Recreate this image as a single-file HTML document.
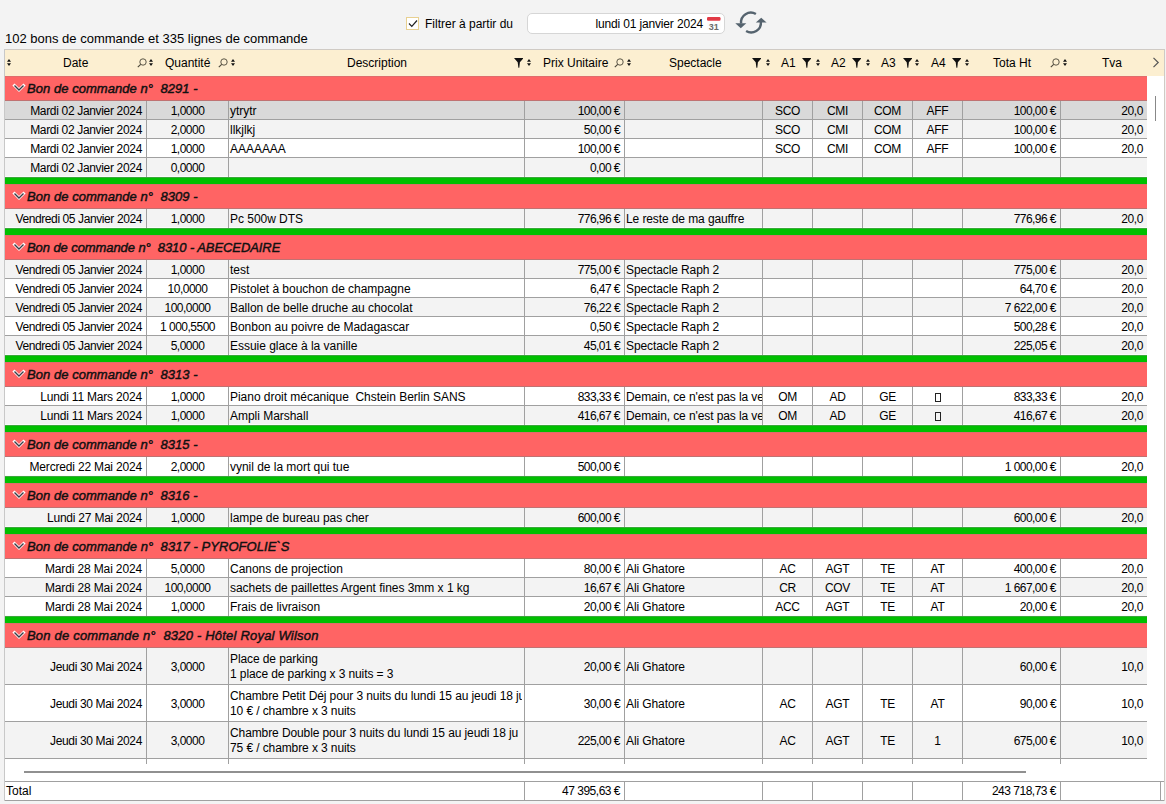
<!DOCTYPE html>
<html><head><meta charset="utf-8"><style>
html,body{margin:0;padding:0}
body{width:1166px;height:804px;overflow:hidden;position:relative;background:#f3f3f3;font-family:"Liberation Sans", sans-serif;color:#000}
.abs{position:absolute}
#tbl{position:absolute;left:4px;top:49px;width:1159px;height:750px;border:1px solid #cfcac4;border-left-color:#c8c8c8;background:#fff}
#hdr{position:absolute;left:5px;top:50px;width:1159px;height:26px;background:#fcefd1}
.row{position:absolute;left:5px;width:1142px}
.hl{position:absolute;left:5px;width:1142px;height:1px;background:#a0a0a0}
.vl{position:absolute;width:1px;background:#a0a0a0}
.cell{position:absolute;font-size:12px;white-space:pre;overflow:hidden;box-sizing:border-box}
.cr{text-align:right;padding-right:4px}
.cl{text-align:left;padding-left:1px}
.cc{text-align:center}
.ml{padding-left:1px;padding-top:4px;line-height:14.5px;letter-spacing:-0.1px}
.grp{position:absolute;left:5px;width:1142px;height:25px;background:#ff6464}
.gl{position:absolute;left:5px;width:1142px;height:1px;background:#dc6a6a}
.grn{position:absolute;left:5px;width:1142px;height:7px;background:#00bf00}
.chev{position:absolute;left:12px;width:14px;height:12px}
.chev svg{display:block}
.gtxt{position:absolute;left:27px;height:25px;line-height:25px;font-size:13px;font-weight:normal;font-style:italic;white-space:pre;color:#111;-webkit-text-stroke:0.45px #111}
.ic{position:absolute}
.ht{position:absolute;top:50px;height:26px;line-height:26px;font-size:12px;white-space:nowrap}
.tofu{display:inline-block;width:6px;height:9px;border:1px solid #222;box-sizing:border-box;vertical-align:-1px}
.tl{position:absolute;top:782px;height:18px;line-height:18px;font-size:12px}
.tr{position:absolute;top:782px;height:18px;line-height:18px;font-size:12px;text-align:right;white-space:pre;letter-spacing:-0.5px}
</style></head><body>
<div class="abs" style="left:5px;top:30px;font-size:13px;line-height:18px;white-space:nowrap">102 bons de commande et 335 lignes de commande</div>
<div class="abs" style="left:406px;top:17px;width:11px;height:11px;border:1px solid #e8d090;background:#fff"></div>
<svg class="abs" style="left:408px;top:19px" width="10" height="9" viewBox="0 0 10 9"><path d="M1 4.5 L3.8 7.3 L9 1.5" fill="none" stroke="#222" stroke-width="1.2"/></svg>
<div class="abs" style="left:425px;top:16px;font-size:12px;line-height:16px;white-space:nowrap">Filtrer à partir du</div>
<div class="abs" style="left:527px;top:13px;width:196px;height:19px;border:1px solid #d6d6d6;border-radius:5px;background:#fff"></div>
<div class="abs" style="left:560px;top:16px;width:143px;text-align:right;font-size:12px;line-height:16px;white-space:nowrap;letter-spacing:-0.15px">lundi 01 janvier 2024</div>
<svg class="abs" style="left:706px;top:16px" width="16" height="15" viewBox="0 0 16 15"><rect x="1" y="4" width="13.5" height="10" fill="#fcfcfc"/><rect x="1" y="1" width="13.5" height="3.7" rx="1.2" fill="#e23a46"/><text x="7.8" y="13.6" font-size="9px" font-weight="bold" text-anchor="middle" fill="#6a6a6a" font-family="Liberation Sans, sans-serif">31</text></svg>
<svg class="abs" style="left:730px;top:6px" width="42" height="34" viewBox="0 0 42 34"><path d="M25.9 8 A9.8 9.8 0 0 0 11.1 17.5" fill="none" stroke="#55636e" stroke-width="2.4"/><path d="M5.3 17.3 L16.3 17.3 L10.8 22.3 Z" fill="#55636e"/><path d="M16.1 25 A9.8 9.8 0 0 0 30.9 15.8" fill="none" stroke="#55636e" stroke-width="2.4"/><path d="M25.8 16.6 L36.6 16.6 L31.2 11.8 Z" fill="#55636e"/></svg>
<div id="tbl"></div>
<div id="hdr"></div>
<svg class="ic" style="left:7px;top:59px" width="4" height="7" viewBox="0 0 4 7"><path d="M2 0 L4 2.8 H0 Z M2 7 L4 4.2 H0 Z" fill="#111"/></svg>
<div class="ht" style="left:63px">Date</div>
<svg class="ic" style="left:137px;top:58px" width="10" height="10" viewBox="0 0 10 10"><circle cx="6" cy="4" r="3.2" fill="none" stroke="#4a4538" stroke-width="0.9"/><path d="M3.7 6.3 L0.8 9.2" stroke="#4a4538" stroke-width="1.1"/></svg>
<svg class="ic" style="left:149px;top:59px" width="4" height="7" viewBox="0 0 4 7"><path d="M2 0 L4 2.8 H0 Z M2 7 L4 4.2 H0 Z" fill="#111"/></svg>
<div class="ht" style="left:165px">Quantité</div>
<svg class="ic" style="left:218px;top:58px" width="10" height="10" viewBox="0 0 10 10"><circle cx="6" cy="4" r="3.2" fill="none" stroke="#4a4538" stroke-width="0.9"/><path d="M3.7 6.3 L0.8 9.2" stroke="#4a4538" stroke-width="1.1"/></svg>
<svg class="ic" style="left:231px;top:59px" width="4" height="7" viewBox="0 0 4 7"><path d="M2 0 L4 2.8 H0 Z M2 7 L4 4.2 H0 Z" fill="#111"/></svg>
<div class="ht" style="left:347px">Description</div>
<svg class="ic" style="left:514px;top:58px" width="9" height="10" viewBox="0 0 9 10"><path d="M0 0 H9.6 L5.9 4.2 L5.3 9.8 H4.4 L3.7 4.2 Z" fill="#111"/></svg>
<svg class="ic" style="left:527px;top:59px" width="4" height="7" viewBox="0 0 4 7"><path d="M2 0 L4 2.8 H0 Z M2 7 L4 4.2 H0 Z" fill="#111"/></svg>
<div class="ht" style="left:543px">Prix Unitaire</div>
<svg class="ic" style="left:614px;top:58px" width="10" height="10" viewBox="0 0 10 10"><circle cx="6" cy="4" r="3.2" fill="none" stroke="#4a4538" stroke-width="0.9"/><path d="M3.7 6.3 L0.8 9.2" stroke="#4a4538" stroke-width="1.1"/></svg>
<svg class="ic" style="left:627px;top:59px" width="4" height="7" viewBox="0 0 4 7"><path d="M2 0 L4 2.8 H0 Z M2 7 L4 4.2 H0 Z" fill="#111"/></svg>
<div class="ht" style="left:669px">Spectacle</div>
<svg class="ic" style="left:752px;top:58px" width="9" height="10" viewBox="0 0 9 10"><path d="M0 0 H9.6 L5.9 4.2 L5.3 9.8 H4.4 L3.7 4.2 Z" fill="#111"/></svg>
<svg class="ic" style="left:766px;top:59px" width="4" height="7" viewBox="0 0 4 7"><path d="M2 0 L4 2.8 H0 Z M2 7 L4 4.2 H0 Z" fill="#111"/></svg>
<div class="ht" style="left:781px">A1</div>
<svg class="ic" style="left:802px;top:58px" width="9" height="10" viewBox="0 0 9 10"><path d="M0 0 H9.6 L5.9 4.2 L5.3 9.8 H4.4 L3.7 4.2 Z" fill="#111"/></svg>
<svg class="ic" style="left:816px;top:59px" width="4" height="7" viewBox="0 0 4 7"><path d="M2 0 L4 2.8 H0 Z M2 7 L4 4.2 H0 Z" fill="#111"/></svg>
<div class="ht" style="left:831px">A2</div>
<svg class="ic" style="left:852px;top:58px" width="9" height="10" viewBox="0 0 9 10"><path d="M0 0 H9.6 L5.9 4.2 L5.3 9.8 H4.4 L3.7 4.2 Z" fill="#111"/></svg>
<svg class="ic" style="left:866px;top:59px" width="4" height="7" viewBox="0 0 4 7"><path d="M2 0 L4 2.8 H0 Z M2 7 L4 4.2 H0 Z" fill="#111"/></svg>
<div class="ht" style="left:881px">A3</div>
<svg class="ic" style="left:903px;top:58px" width="9" height="10" viewBox="0 0 9 10"><path d="M0 0 H9.6 L5.9 4.2 L5.3 9.8 H4.4 L3.7 4.2 Z" fill="#111"/></svg>
<svg class="ic" style="left:915px;top:59px" width="4" height="7" viewBox="0 0 4 7"><path d="M2 0 L4 2.8 H0 Z M2 7 L4 4.2 H0 Z" fill="#111"/></svg>
<div class="ht" style="left:931px">A4</div>
<svg class="ic" style="left:952px;top:58px" width="9" height="10" viewBox="0 0 9 10"><path d="M0 0 H9.6 L5.9 4.2 L5.3 9.8 H4.4 L3.7 4.2 Z" fill="#111"/></svg>
<svg class="ic" style="left:965px;top:59px" width="4" height="7" viewBox="0 0 4 7"><path d="M2 0 L4 2.8 H0 Z M2 7 L4 4.2 H0 Z" fill="#111"/></svg>
<div class="ht" style="left:993px">Tota Ht</div>
<svg class="ic" style="left:1050px;top:58px" width="10" height="10" viewBox="0 0 10 10"><circle cx="6" cy="4" r="3.2" fill="none" stroke="#4a4538" stroke-width="0.9"/><path d="M3.7 6.3 L0.8 9.2" stroke="#4a4538" stroke-width="1.1"/></svg>
<svg class="ic" style="left:1063px;top:59px" width="4" height="7" viewBox="0 0 4 7"><path d="M2 0 L4 2.8 H0 Z M2 7 L4 4.2 H0 Z" fill="#111"/></svg>
<div class="ht" style="left:1102px">Tva</div>
<svg class="ic" style="left:1152px;top:57px" width="8" height="11" viewBox="0 0 8 11"><path d="M1.5 0.8 L6.2 5.5 L1.5 10.2" fill="none" stroke="#555" stroke-width="1.2"/></svg>
<div class="grp" style="top:76px"></div>
<div class="gl" style="top:76px;background:#e06c6c"></div>
<div class="gl" style="top:100px;background:#c07272"></div>
<div class="chev" style="top:82px"><svg width="14" height="12" viewBox="0 0 14 12"><path d="M2.5 3.5 L7 8 L11.5 3.5" fill="none" stroke="#fff" stroke-width="3" stroke-linecap="square"/><path d="M2.5 3.5 L7 8 L11.5 3.5" fill="none" stroke="#3a3a44" stroke-width="1.4"/></svg></div>
<div class="gtxt" style="top:76px;letter-spacing:0.05px">Bon de commande n°  8291 -</div>
<div class="row" style="top:101px;height:18px;background:#d9d9d9"></div>
<div class="hl" style="top:119px"></div>
<div class="vl" style="left:146px;top:101px;height:19px"></div>
<div class="vl" style="left:228px;top:101px;height:19px"></div>
<div class="vl" style="left:524px;top:101px;height:19px"></div>
<div class="vl" style="left:624px;top:101px;height:19px"></div>
<div class="vl" style="left:762px;top:101px;height:19px"></div>
<div class="vl" style="left:812px;top:101px;height:19px"></div>
<div class="vl" style="left:862px;top:101px;height:19px"></div>
<div class="vl" style="left:912px;top:101px;height:19px"></div>
<div class="vl" style="left:962px;top:101px;height:19px"></div>
<div class="vl" style="left:1060px;top:101px;height:19px"></div>
<div class="cell cr" style="left:5px;top:102px;width:141px;height:17px;line-height:18px;letter-spacing:-0.33px">Mardi 02 Janvier 2024</div>
<div class="cell cc" style="left:147px;top:102px;width:81px;height:17px;line-height:18px;letter-spacing:-0.5px">1,0000</div>
<div class="cell cl" style="left:229px;top:102px;width:295px;height:17px;line-height:18px;letter-spacing:-0.03px">ytrytr</div>
<div class="cell cr" style="left:525px;top:102px;width:99px;height:17px;line-height:18px;letter-spacing:-0.55px">100,00 €</div>
<div class="cell cc" style="left:763px;top:102px;width:49px;height:17px;line-height:18px;letter-spacing:-0.3px">SCO</div>
<div class="cell cc" style="left:813px;top:102px;width:49px;height:17px;line-height:18px;letter-spacing:-0.3px">CMI</div>
<div class="cell cc" style="left:863px;top:102px;width:49px;height:17px;line-height:18px;letter-spacing:-0.3px">COM</div>
<div class="cell cc" style="left:913px;top:102px;width:49px;height:17px;line-height:18px;letter-spacing:-0.3px">AFF</div>
<div class="cell cr" style="left:963px;top:102px;width:97px;height:17px;line-height:18px;letter-spacing:-0.55px">100,00 €</div>
<div class="cell cr" style="left:1061px;top:102px;width:86px;height:17px;line-height:18px;letter-spacing:-0.4px">20,0</div>
<div class="row" style="top:120px;height:18px;background:#f3f3f3"></div>
<div class="hl" style="top:138px"></div>
<div class="vl" style="left:146px;top:120px;height:19px"></div>
<div class="vl" style="left:228px;top:120px;height:19px"></div>
<div class="vl" style="left:524px;top:120px;height:19px"></div>
<div class="vl" style="left:624px;top:120px;height:19px"></div>
<div class="vl" style="left:762px;top:120px;height:19px"></div>
<div class="vl" style="left:812px;top:120px;height:19px"></div>
<div class="vl" style="left:862px;top:120px;height:19px"></div>
<div class="vl" style="left:912px;top:120px;height:19px"></div>
<div class="vl" style="left:962px;top:120px;height:19px"></div>
<div class="vl" style="left:1060px;top:120px;height:19px"></div>
<div class="cell cr" style="left:5px;top:121px;width:141px;height:17px;line-height:18px;letter-spacing:-0.33px">Mardi 02 Janvier 2024</div>
<div class="cell cc" style="left:147px;top:121px;width:81px;height:17px;line-height:18px;letter-spacing:-0.5px">2,0000</div>
<div class="cell cl" style="left:229px;top:121px;width:295px;height:17px;line-height:18px;letter-spacing:-0.03px">llkjlkj</div>
<div class="cell cr" style="left:525px;top:121px;width:99px;height:17px;line-height:18px;letter-spacing:-0.55px">50,00 €</div>
<div class="cell cc" style="left:763px;top:121px;width:49px;height:17px;line-height:18px;letter-spacing:-0.3px">SCO</div>
<div class="cell cc" style="left:813px;top:121px;width:49px;height:17px;line-height:18px;letter-spacing:-0.3px">CMI</div>
<div class="cell cc" style="left:863px;top:121px;width:49px;height:17px;line-height:18px;letter-spacing:-0.3px">COM</div>
<div class="cell cc" style="left:913px;top:121px;width:49px;height:17px;line-height:18px;letter-spacing:-0.3px">AFF</div>
<div class="cell cr" style="left:963px;top:121px;width:97px;height:17px;line-height:18px;letter-spacing:-0.55px">100,00 €</div>
<div class="cell cr" style="left:1061px;top:121px;width:86px;height:17px;line-height:18px;letter-spacing:-0.4px">20,0</div>
<div class="row" style="top:139px;height:18px;background:#ffffff"></div>
<div class="hl" style="top:157px"></div>
<div class="vl" style="left:146px;top:139px;height:19px"></div>
<div class="vl" style="left:228px;top:139px;height:19px"></div>
<div class="vl" style="left:524px;top:139px;height:19px"></div>
<div class="vl" style="left:624px;top:139px;height:19px"></div>
<div class="vl" style="left:762px;top:139px;height:19px"></div>
<div class="vl" style="left:812px;top:139px;height:19px"></div>
<div class="vl" style="left:862px;top:139px;height:19px"></div>
<div class="vl" style="left:912px;top:139px;height:19px"></div>
<div class="vl" style="left:962px;top:139px;height:19px"></div>
<div class="vl" style="left:1060px;top:139px;height:19px"></div>
<div class="cell cr" style="left:5px;top:140px;width:141px;height:17px;line-height:18px;letter-spacing:-0.33px">Mardi 02 Janvier 2024</div>
<div class="cell cc" style="left:147px;top:140px;width:81px;height:17px;line-height:18px;letter-spacing:-0.5px">1,0000</div>
<div class="cell cl" style="left:229px;top:140px;width:295px;height:17px;line-height:18px;letter-spacing:-0.03px">AAAAAAA</div>
<div class="cell cr" style="left:525px;top:140px;width:99px;height:17px;line-height:18px;letter-spacing:-0.55px">100,00 €</div>
<div class="cell cc" style="left:763px;top:140px;width:49px;height:17px;line-height:18px;letter-spacing:-0.3px">SCO</div>
<div class="cell cc" style="left:813px;top:140px;width:49px;height:17px;line-height:18px;letter-spacing:-0.3px">CMI</div>
<div class="cell cc" style="left:863px;top:140px;width:49px;height:17px;line-height:18px;letter-spacing:-0.3px">COM</div>
<div class="cell cc" style="left:913px;top:140px;width:49px;height:17px;line-height:18px;letter-spacing:-0.3px">AFF</div>
<div class="cell cr" style="left:963px;top:140px;width:97px;height:17px;line-height:18px;letter-spacing:-0.55px">100,00 €</div>
<div class="cell cr" style="left:1061px;top:140px;width:86px;height:17px;line-height:18px;letter-spacing:-0.4px">20,0</div>
<div class="row" style="top:158px;height:18px;background:#f3f3f3"></div>
<div class="hl" style="top:176px;background:#fbfbfb"></div>
<div class="vl" style="left:146px;top:158px;height:19px"></div>
<div class="vl" style="left:228px;top:158px;height:19px"></div>
<div class="vl" style="left:524px;top:158px;height:19px"></div>
<div class="vl" style="left:624px;top:158px;height:19px"></div>
<div class="vl" style="left:762px;top:158px;height:19px"></div>
<div class="vl" style="left:812px;top:158px;height:19px"></div>
<div class="vl" style="left:862px;top:158px;height:19px"></div>
<div class="vl" style="left:912px;top:158px;height:19px"></div>
<div class="vl" style="left:962px;top:158px;height:19px"></div>
<div class="vl" style="left:1060px;top:158px;height:19px"></div>
<div class="cell cr" style="left:5px;top:159px;width:141px;height:17px;line-height:18px;letter-spacing:-0.33px">Mardi 02 Janvier 2024</div>
<div class="cell cc" style="left:147px;top:159px;width:81px;height:17px;line-height:18px;letter-spacing:-0.5px">0,0000</div>
<div class="cell cr" style="left:525px;top:159px;width:99px;height:17px;line-height:18px;letter-spacing:-0.55px">0,00 €</div>
<div class="grn" style="top:177px"></div>
<div class="gl" style="top:177px;background:#3aa83a"></div>
<div class="grp" style="top:184px"></div>
<div class="gl" style="top:184px;background:#e06c6c"></div>
<div class="gl" style="top:208px;background:#c07272"></div>
<div class="chev" style="top:190px"><svg width="14" height="12" viewBox="0 0 14 12"><path d="M2.5 3.5 L7 8 L11.5 3.5" fill="none" stroke="#fff" stroke-width="3" stroke-linecap="square"/><path d="M2.5 3.5 L7 8 L11.5 3.5" fill="none" stroke="#3a3a44" stroke-width="1.4"/></svg></div>
<div class="gtxt" style="top:184px;letter-spacing:0.05px">Bon de commande n°  8309 -</div>
<div class="row" style="top:209px;height:18px;background:#f3f3f3"></div>
<div class="hl" style="top:227px;background:#fbfbfb"></div>
<div class="vl" style="left:146px;top:209px;height:19px"></div>
<div class="vl" style="left:228px;top:209px;height:19px"></div>
<div class="vl" style="left:524px;top:209px;height:19px"></div>
<div class="vl" style="left:624px;top:209px;height:19px"></div>
<div class="vl" style="left:762px;top:209px;height:19px"></div>
<div class="vl" style="left:812px;top:209px;height:19px"></div>
<div class="vl" style="left:862px;top:209px;height:19px"></div>
<div class="vl" style="left:912px;top:209px;height:19px"></div>
<div class="vl" style="left:962px;top:209px;height:19px"></div>
<div class="vl" style="left:1060px;top:209px;height:19px"></div>
<div class="cell cr" style="left:5px;top:210px;width:141px;height:17px;line-height:18px;letter-spacing:-0.4px">Vendredi 05 Janvier 2024</div>
<div class="cell cc" style="left:147px;top:210px;width:81px;height:17px;line-height:18px;letter-spacing:-0.5px">1,0000</div>
<div class="cell cl" style="left:229px;top:210px;width:295px;height:17px;line-height:18px;letter-spacing:-0.03px">Pc 500w DTS</div>
<div class="cell cr" style="left:525px;top:210px;width:99px;height:17px;line-height:18px;letter-spacing:-0.55px">776,96 €</div>
<div class="cell cl" style="left:625px;top:210px;width:137px;height:17px;line-height:18px;letter-spacing:-0.1px">Le reste de ma gauffre</div>
<div class="cell cr" style="left:963px;top:210px;width:97px;height:17px;line-height:18px;letter-spacing:-0.55px">776,96 €</div>
<div class="cell cr" style="left:1061px;top:210px;width:86px;height:17px;line-height:18px;letter-spacing:-0.4px">20,0</div>
<div class="grn" style="top:228px"></div>
<div class="gl" style="top:228px;background:#3aa83a"></div>
<div class="grp" style="top:235px"></div>
<div class="gl" style="top:235px;background:#e06c6c"></div>
<div class="gl" style="top:259px;background:#c07272"></div>
<div class="chev" style="top:241px"><svg width="14" height="12" viewBox="0 0 14 12"><path d="M2.5 3.5 L7 8 L11.5 3.5" fill="none" stroke="#fff" stroke-width="3" stroke-linecap="square"/><path d="M2.5 3.5 L7 8 L11.5 3.5" fill="none" stroke="#3a3a44" stroke-width="1.4"/></svg></div>
<div class="gtxt" style="top:235px;letter-spacing:-0.08px">Bon de commande n°  8310 - ABECEDAIRE</div>
<div class="row" style="top:260px;height:18px;background:#f3f3f3"></div>
<div class="hl" style="top:278px"></div>
<div class="vl" style="left:146px;top:260px;height:19px"></div>
<div class="vl" style="left:228px;top:260px;height:19px"></div>
<div class="vl" style="left:524px;top:260px;height:19px"></div>
<div class="vl" style="left:624px;top:260px;height:19px"></div>
<div class="vl" style="left:762px;top:260px;height:19px"></div>
<div class="vl" style="left:812px;top:260px;height:19px"></div>
<div class="vl" style="left:862px;top:260px;height:19px"></div>
<div class="vl" style="left:912px;top:260px;height:19px"></div>
<div class="vl" style="left:962px;top:260px;height:19px"></div>
<div class="vl" style="left:1060px;top:260px;height:19px"></div>
<div class="cell cr" style="left:5px;top:261px;width:141px;height:17px;line-height:18px;letter-spacing:-0.4px">Vendredi 05 Janvier 2024</div>
<div class="cell cc" style="left:147px;top:261px;width:81px;height:17px;line-height:18px;letter-spacing:-0.5px">1,0000</div>
<div class="cell cl" style="left:229px;top:261px;width:295px;height:17px;line-height:18px;letter-spacing:-0.03px">test</div>
<div class="cell cr" style="left:525px;top:261px;width:99px;height:17px;line-height:18px;letter-spacing:-0.55px">775,00 €</div>
<div class="cell cl" style="left:625px;top:261px;width:137px;height:17px;line-height:18px;letter-spacing:-0.1px">Spectacle Raph 2</div>
<div class="cell cr" style="left:963px;top:261px;width:97px;height:17px;line-height:18px;letter-spacing:-0.55px">775,00 €</div>
<div class="cell cr" style="left:1061px;top:261px;width:86px;height:17px;line-height:18px;letter-spacing:-0.4px">20,0</div>
<div class="row" style="top:279px;height:18px;background:#ffffff"></div>
<div class="hl" style="top:297px"></div>
<div class="vl" style="left:146px;top:279px;height:19px"></div>
<div class="vl" style="left:228px;top:279px;height:19px"></div>
<div class="vl" style="left:524px;top:279px;height:19px"></div>
<div class="vl" style="left:624px;top:279px;height:19px"></div>
<div class="vl" style="left:762px;top:279px;height:19px"></div>
<div class="vl" style="left:812px;top:279px;height:19px"></div>
<div class="vl" style="left:862px;top:279px;height:19px"></div>
<div class="vl" style="left:912px;top:279px;height:19px"></div>
<div class="vl" style="left:962px;top:279px;height:19px"></div>
<div class="vl" style="left:1060px;top:279px;height:19px"></div>
<div class="cell cr" style="left:5px;top:280px;width:141px;height:17px;line-height:18px;letter-spacing:-0.4px">Vendredi 05 Janvier 2024</div>
<div class="cell cc" style="left:147px;top:280px;width:81px;height:17px;line-height:18px;letter-spacing:-0.5px">10,0000</div>
<div class="cell cl" style="left:229px;top:280px;width:295px;height:17px;line-height:18px;letter-spacing:-0.03px">Pistolet à bouchon de champagne</div>
<div class="cell cr" style="left:525px;top:280px;width:99px;height:17px;line-height:18px;letter-spacing:-0.55px">6,47 €</div>
<div class="cell cl" style="left:625px;top:280px;width:137px;height:17px;line-height:18px;letter-spacing:-0.1px">Spectacle Raph 2</div>
<div class="cell cr" style="left:963px;top:280px;width:97px;height:17px;line-height:18px;letter-spacing:-0.55px">64,70 €</div>
<div class="cell cr" style="left:1061px;top:280px;width:86px;height:17px;line-height:18px;letter-spacing:-0.4px">20,0</div>
<div class="row" style="top:298px;height:18px;background:#f3f3f3"></div>
<div class="hl" style="top:316px"></div>
<div class="vl" style="left:146px;top:298px;height:19px"></div>
<div class="vl" style="left:228px;top:298px;height:19px"></div>
<div class="vl" style="left:524px;top:298px;height:19px"></div>
<div class="vl" style="left:624px;top:298px;height:19px"></div>
<div class="vl" style="left:762px;top:298px;height:19px"></div>
<div class="vl" style="left:812px;top:298px;height:19px"></div>
<div class="vl" style="left:862px;top:298px;height:19px"></div>
<div class="vl" style="left:912px;top:298px;height:19px"></div>
<div class="vl" style="left:962px;top:298px;height:19px"></div>
<div class="vl" style="left:1060px;top:298px;height:19px"></div>
<div class="cell cr" style="left:5px;top:299px;width:141px;height:17px;line-height:18px;letter-spacing:-0.4px">Vendredi 05 Janvier 2024</div>
<div class="cell cc" style="left:147px;top:299px;width:81px;height:17px;line-height:18px;letter-spacing:-0.5px">100,0000</div>
<div class="cell cl" style="left:229px;top:299px;width:295px;height:17px;line-height:18px;letter-spacing:-0.03px">Ballon de belle druche au chocolat</div>
<div class="cell cr" style="left:525px;top:299px;width:99px;height:17px;line-height:18px;letter-spacing:-0.55px">76,22 €</div>
<div class="cell cl" style="left:625px;top:299px;width:137px;height:17px;line-height:18px;letter-spacing:-0.1px">Spectacle Raph 2</div>
<div class="cell cr" style="left:963px;top:299px;width:97px;height:17px;line-height:18px;letter-spacing:-0.55px">7 622,00 €</div>
<div class="cell cr" style="left:1061px;top:299px;width:86px;height:17px;line-height:18px;letter-spacing:-0.4px">20,0</div>
<div class="row" style="top:317px;height:18px;background:#ffffff"></div>
<div class="hl" style="top:335px"></div>
<div class="vl" style="left:146px;top:317px;height:19px"></div>
<div class="vl" style="left:228px;top:317px;height:19px"></div>
<div class="vl" style="left:524px;top:317px;height:19px"></div>
<div class="vl" style="left:624px;top:317px;height:19px"></div>
<div class="vl" style="left:762px;top:317px;height:19px"></div>
<div class="vl" style="left:812px;top:317px;height:19px"></div>
<div class="vl" style="left:862px;top:317px;height:19px"></div>
<div class="vl" style="left:912px;top:317px;height:19px"></div>
<div class="vl" style="left:962px;top:317px;height:19px"></div>
<div class="vl" style="left:1060px;top:317px;height:19px"></div>
<div class="cell cr" style="left:5px;top:318px;width:141px;height:17px;line-height:18px;letter-spacing:-0.4px">Vendredi 05 Janvier 2024</div>
<div class="cell cc" style="left:147px;top:318px;width:81px;height:17px;line-height:18px;letter-spacing:-0.5px">1 000,5500</div>
<div class="cell cl" style="left:229px;top:318px;width:295px;height:17px;line-height:18px;letter-spacing:-0.03px">Bonbon au poivre de Madagascar</div>
<div class="cell cr" style="left:525px;top:318px;width:99px;height:17px;line-height:18px;letter-spacing:-0.55px">0,50 €</div>
<div class="cell cl" style="left:625px;top:318px;width:137px;height:17px;line-height:18px;letter-spacing:-0.1px">Spectacle Raph 2</div>
<div class="cell cr" style="left:963px;top:318px;width:97px;height:17px;line-height:18px;letter-spacing:-0.55px">500,28 €</div>
<div class="cell cr" style="left:1061px;top:318px;width:86px;height:17px;line-height:18px;letter-spacing:-0.4px">20,0</div>
<div class="row" style="top:336px;height:18px;background:#f3f3f3"></div>
<div class="hl" style="top:354px;background:#fbfbfb"></div>
<div class="vl" style="left:146px;top:336px;height:19px"></div>
<div class="vl" style="left:228px;top:336px;height:19px"></div>
<div class="vl" style="left:524px;top:336px;height:19px"></div>
<div class="vl" style="left:624px;top:336px;height:19px"></div>
<div class="vl" style="left:762px;top:336px;height:19px"></div>
<div class="vl" style="left:812px;top:336px;height:19px"></div>
<div class="vl" style="left:862px;top:336px;height:19px"></div>
<div class="vl" style="left:912px;top:336px;height:19px"></div>
<div class="vl" style="left:962px;top:336px;height:19px"></div>
<div class="vl" style="left:1060px;top:336px;height:19px"></div>
<div class="cell cr" style="left:5px;top:337px;width:141px;height:17px;line-height:18px;letter-spacing:-0.4px">Vendredi 05 Janvier 2024</div>
<div class="cell cc" style="left:147px;top:337px;width:81px;height:17px;line-height:18px;letter-spacing:-0.5px">5,0000</div>
<div class="cell cl" style="left:229px;top:337px;width:295px;height:17px;line-height:18px;letter-spacing:-0.03px">Essuie glace à la vanille</div>
<div class="cell cr" style="left:525px;top:337px;width:99px;height:17px;line-height:18px;letter-spacing:-0.55px">45,01 €</div>
<div class="cell cl" style="left:625px;top:337px;width:137px;height:17px;line-height:18px;letter-spacing:-0.1px">Spectacle Raph 2</div>
<div class="cell cr" style="left:963px;top:337px;width:97px;height:17px;line-height:18px;letter-spacing:-0.55px">225,05 €</div>
<div class="cell cr" style="left:1061px;top:337px;width:86px;height:17px;line-height:18px;letter-spacing:-0.4px">20,0</div>
<div class="grn" style="top:355px"></div>
<div class="gl" style="top:355px;background:#3aa83a"></div>
<div class="grp" style="top:362px"></div>
<div class="gl" style="top:362px;background:#e06c6c"></div>
<div class="gl" style="top:386px;background:#c07272"></div>
<div class="chev" style="top:368px"><svg width="14" height="12" viewBox="0 0 14 12"><path d="M2.5 3.5 L7 8 L11.5 3.5" fill="none" stroke="#fff" stroke-width="3" stroke-linecap="square"/><path d="M2.5 3.5 L7 8 L11.5 3.5" fill="none" stroke="#3a3a44" stroke-width="1.4"/></svg></div>
<div class="gtxt" style="top:362px;letter-spacing:0.05px">Bon de commande n°  8313 -</div>
<div class="row" style="top:387px;height:18px;background:#ffffff"></div>
<div class="hl" style="top:405px"></div>
<div class="vl" style="left:146px;top:387px;height:19px"></div>
<div class="vl" style="left:228px;top:387px;height:19px"></div>
<div class="vl" style="left:524px;top:387px;height:19px"></div>
<div class="vl" style="left:624px;top:387px;height:19px"></div>
<div class="vl" style="left:762px;top:387px;height:19px"></div>
<div class="vl" style="left:812px;top:387px;height:19px"></div>
<div class="vl" style="left:862px;top:387px;height:19px"></div>
<div class="vl" style="left:912px;top:387px;height:19px"></div>
<div class="vl" style="left:962px;top:387px;height:19px"></div>
<div class="vl" style="left:1060px;top:387px;height:19px"></div>
<div class="cell cr" style="left:5px;top:388px;width:141px;height:17px;line-height:18px;letter-spacing:-0.19px">Lundi 11 Mars 2024</div>
<div class="cell cc" style="left:147px;top:388px;width:81px;height:17px;line-height:18px;letter-spacing:-0.5px">1,0000</div>
<div class="cell cl" style="left:229px;top:388px;width:295px;height:17px;line-height:18px;letter-spacing:-0.03px">Piano droit mécanique  Chstein Berlin SANS</div>
<div class="cell cr" style="left:525px;top:388px;width:99px;height:17px;line-height:18px;letter-spacing:-0.55px">833,33 €</div>
<div class="cell cl" style="left:625px;top:388px;width:137px;height:17px;line-height:18px;letter-spacing:-0.1px">Demain, ce n&#x27;est pas la vent</div>
<div class="cell cc" style="left:763px;top:388px;width:49px;height:17px;line-height:18px;letter-spacing:-0.3px">OM</div>
<div class="cell cc" style="left:813px;top:388px;width:49px;height:17px;line-height:18px;letter-spacing:-0.3px">AD</div>
<div class="cell cc" style="left:863px;top:388px;width:49px;height:17px;line-height:18px;letter-spacing:-0.3px">GE</div>
<div class="cell cc" style="left:913px;top:388px;width:49px;height:17px;line-height:18px;letter-spacing:-0.3px"><span class="tofu"></span></div>
<div class="cell cr" style="left:963px;top:388px;width:97px;height:17px;line-height:18px;letter-spacing:-0.55px">833,33 €</div>
<div class="cell cr" style="left:1061px;top:388px;width:86px;height:17px;line-height:18px;letter-spacing:-0.4px">20,0</div>
<div class="row" style="top:406px;height:18px;background:#f3f3f3"></div>
<div class="hl" style="top:424px;background:#fbfbfb"></div>
<div class="vl" style="left:146px;top:406px;height:19px"></div>
<div class="vl" style="left:228px;top:406px;height:19px"></div>
<div class="vl" style="left:524px;top:406px;height:19px"></div>
<div class="vl" style="left:624px;top:406px;height:19px"></div>
<div class="vl" style="left:762px;top:406px;height:19px"></div>
<div class="vl" style="left:812px;top:406px;height:19px"></div>
<div class="vl" style="left:862px;top:406px;height:19px"></div>
<div class="vl" style="left:912px;top:406px;height:19px"></div>
<div class="vl" style="left:962px;top:406px;height:19px"></div>
<div class="vl" style="left:1060px;top:406px;height:19px"></div>
<div class="cell cr" style="left:5px;top:407px;width:141px;height:17px;line-height:18px;letter-spacing:-0.19px">Lundi 11 Mars 2024</div>
<div class="cell cc" style="left:147px;top:407px;width:81px;height:17px;line-height:18px;letter-spacing:-0.5px">1,0000</div>
<div class="cell cl" style="left:229px;top:407px;width:295px;height:17px;line-height:18px;letter-spacing:-0.03px">Ampli Marshall</div>
<div class="cell cr" style="left:525px;top:407px;width:99px;height:17px;line-height:18px;letter-spacing:-0.55px">416,67 €</div>
<div class="cell cl" style="left:625px;top:407px;width:137px;height:17px;line-height:18px;letter-spacing:-0.1px">Demain, ce n&#x27;est pas la vent</div>
<div class="cell cc" style="left:763px;top:407px;width:49px;height:17px;line-height:18px;letter-spacing:-0.3px">OM</div>
<div class="cell cc" style="left:813px;top:407px;width:49px;height:17px;line-height:18px;letter-spacing:-0.3px">AD</div>
<div class="cell cc" style="left:863px;top:407px;width:49px;height:17px;line-height:18px;letter-spacing:-0.3px">GE</div>
<div class="cell cc" style="left:913px;top:407px;width:49px;height:17px;line-height:18px;letter-spacing:-0.3px"><span class="tofu"></span></div>
<div class="cell cr" style="left:963px;top:407px;width:97px;height:17px;line-height:18px;letter-spacing:-0.55px">416,67 €</div>
<div class="cell cr" style="left:1061px;top:407px;width:86px;height:17px;line-height:18px;letter-spacing:-0.4px">20,0</div>
<div class="grn" style="top:425px"></div>
<div class="gl" style="top:425px;background:#3aa83a"></div>
<div class="grp" style="top:432px"></div>
<div class="gl" style="top:432px;background:#e06c6c"></div>
<div class="gl" style="top:456px;background:#c07272"></div>
<div class="chev" style="top:438px"><svg width="14" height="12" viewBox="0 0 14 12"><path d="M2.5 3.5 L7 8 L11.5 3.5" fill="none" stroke="#fff" stroke-width="3" stroke-linecap="square"/><path d="M2.5 3.5 L7 8 L11.5 3.5" fill="none" stroke="#3a3a44" stroke-width="1.4"/></svg></div>
<div class="gtxt" style="top:432px;letter-spacing:0.05px">Bon de commande n°  8315 -</div>
<div class="row" style="top:457px;height:18px;background:#ffffff"></div>
<div class="hl" style="top:475px;background:#fbfbfb"></div>
<div class="vl" style="left:146px;top:457px;height:19px"></div>
<div class="vl" style="left:228px;top:457px;height:19px"></div>
<div class="vl" style="left:524px;top:457px;height:19px"></div>
<div class="vl" style="left:624px;top:457px;height:19px"></div>
<div class="vl" style="left:762px;top:457px;height:19px"></div>
<div class="vl" style="left:812px;top:457px;height:19px"></div>
<div class="vl" style="left:862px;top:457px;height:19px"></div>
<div class="vl" style="left:912px;top:457px;height:19px"></div>
<div class="vl" style="left:962px;top:457px;height:19px"></div>
<div class="vl" style="left:1060px;top:457px;height:19px"></div>
<div class="cell cr" style="left:5px;top:458px;width:141px;height:17px;line-height:18px;letter-spacing:-0.18px">Mercredi 22 Mai 2024</div>
<div class="cell cc" style="left:147px;top:458px;width:81px;height:17px;line-height:18px;letter-spacing:-0.5px">2,0000</div>
<div class="cell cl" style="left:229px;top:458px;width:295px;height:17px;line-height:18px;letter-spacing:-0.03px">vynil de la mort qui tue</div>
<div class="cell cr" style="left:525px;top:458px;width:99px;height:17px;line-height:18px;letter-spacing:-0.55px">500,00 €</div>
<div class="cell cr" style="left:963px;top:458px;width:97px;height:17px;line-height:18px;letter-spacing:-0.55px">1 000,00 €</div>
<div class="cell cr" style="left:1061px;top:458px;width:86px;height:17px;line-height:18px;letter-spacing:-0.4px">20,0</div>
<div class="grn" style="top:476px"></div>
<div class="gl" style="top:476px;background:#3aa83a"></div>
<div class="grp" style="top:483px"></div>
<div class="gl" style="top:483px;background:#e06c6c"></div>
<div class="gl" style="top:507px;background:#c07272"></div>
<div class="chev" style="top:489px"><svg width="14" height="12" viewBox="0 0 14 12"><path d="M2.5 3.5 L7 8 L11.5 3.5" fill="none" stroke="#fff" stroke-width="3" stroke-linecap="square"/><path d="M2.5 3.5 L7 8 L11.5 3.5" fill="none" stroke="#3a3a44" stroke-width="1.4"/></svg></div>
<div class="gtxt" style="top:483px;letter-spacing:0.05px">Bon de commande n°  8316 -</div>
<div class="row" style="top:508px;height:18px;background:#f3f3f3"></div>
<div class="hl" style="top:526px;background:#fbfbfb"></div>
<div class="vl" style="left:146px;top:508px;height:19px"></div>
<div class="vl" style="left:228px;top:508px;height:19px"></div>
<div class="vl" style="left:524px;top:508px;height:19px"></div>
<div class="vl" style="left:624px;top:508px;height:19px"></div>
<div class="vl" style="left:762px;top:508px;height:19px"></div>
<div class="vl" style="left:812px;top:508px;height:19px"></div>
<div class="vl" style="left:862px;top:508px;height:19px"></div>
<div class="vl" style="left:912px;top:508px;height:19px"></div>
<div class="vl" style="left:962px;top:508px;height:19px"></div>
<div class="vl" style="left:1060px;top:508px;height:19px"></div>
<div class="cell cr" style="left:5px;top:509px;width:141px;height:17px;line-height:18px;letter-spacing:-0.22px">Lundi 27 Mai 2024</div>
<div class="cell cc" style="left:147px;top:509px;width:81px;height:17px;line-height:18px;letter-spacing:-0.5px">1,0000</div>
<div class="cell cl" style="left:229px;top:509px;width:295px;height:17px;line-height:18px;letter-spacing:-0.03px">lampe de bureau pas cher</div>
<div class="cell cr" style="left:525px;top:509px;width:99px;height:17px;line-height:18px;letter-spacing:-0.55px">600,00 €</div>
<div class="cell cr" style="left:963px;top:509px;width:97px;height:17px;line-height:18px;letter-spacing:-0.55px">600,00 €</div>
<div class="cell cr" style="left:1061px;top:509px;width:86px;height:17px;line-height:18px;letter-spacing:-0.4px">20,0</div>
<div class="grn" style="top:527px"></div>
<div class="gl" style="top:527px;background:#3aa83a"></div>
<div class="grp" style="top:534px"></div>
<div class="gl" style="top:534px;background:#e06c6c"></div>
<div class="gl" style="top:558px;background:#c07272"></div>
<div class="chev" style="top:540px"><svg width="14" height="12" viewBox="0 0 14 12"><path d="M2.5 3.5 L7 8 L11.5 3.5" fill="none" stroke="#fff" stroke-width="3" stroke-linecap="square"/><path d="M2.5 3.5 L7 8 L11.5 3.5" fill="none" stroke="#3a3a44" stroke-width="1.4"/></svg></div>
<div class="gtxt" style="top:534px;letter-spacing:0.06px">Bon de commande n°  8317 - PYROFOLIE`S</div>
<div class="row" style="top:559px;height:18px;background:#ffffff"></div>
<div class="hl" style="top:577px"></div>
<div class="vl" style="left:146px;top:559px;height:19px"></div>
<div class="vl" style="left:228px;top:559px;height:19px"></div>
<div class="vl" style="left:524px;top:559px;height:19px"></div>
<div class="vl" style="left:624px;top:559px;height:19px"></div>
<div class="vl" style="left:762px;top:559px;height:19px"></div>
<div class="vl" style="left:812px;top:559px;height:19px"></div>
<div class="vl" style="left:862px;top:559px;height:19px"></div>
<div class="vl" style="left:912px;top:559px;height:19px"></div>
<div class="vl" style="left:962px;top:559px;height:19px"></div>
<div class="vl" style="left:1060px;top:559px;height:19px"></div>
<div class="cell cr" style="left:5px;top:560px;width:141px;height:17px;line-height:18px;letter-spacing:-0.14px">Mardi 28 Mai 2024</div>
<div class="cell cc" style="left:147px;top:560px;width:81px;height:17px;line-height:18px;letter-spacing:-0.5px">5,0000</div>
<div class="cell cl" style="left:229px;top:560px;width:295px;height:17px;line-height:18px;letter-spacing:-0.03px">Canons de projection</div>
<div class="cell cr" style="left:525px;top:560px;width:99px;height:17px;line-height:18px;letter-spacing:-0.55px">80,00 €</div>
<div class="cell cl" style="left:625px;top:560px;width:137px;height:17px;line-height:18px;letter-spacing:-0.1px">Ali Ghatore</div>
<div class="cell cc" style="left:763px;top:560px;width:49px;height:17px;line-height:18px;letter-spacing:-0.3px">AC</div>
<div class="cell cc" style="left:813px;top:560px;width:49px;height:17px;line-height:18px;letter-spacing:-0.3px">AGT</div>
<div class="cell cc" style="left:863px;top:560px;width:49px;height:17px;line-height:18px;letter-spacing:-0.3px">TE</div>
<div class="cell cc" style="left:913px;top:560px;width:49px;height:17px;line-height:18px;letter-spacing:-0.3px">AT</div>
<div class="cell cr" style="left:963px;top:560px;width:97px;height:17px;line-height:18px;letter-spacing:-0.55px">400,00 €</div>
<div class="cell cr" style="left:1061px;top:560px;width:86px;height:17px;line-height:18px;letter-spacing:-0.4px">20,0</div>
<div class="row" style="top:578px;height:18px;background:#f3f3f3"></div>
<div class="hl" style="top:596px"></div>
<div class="vl" style="left:146px;top:578px;height:19px"></div>
<div class="vl" style="left:228px;top:578px;height:19px"></div>
<div class="vl" style="left:524px;top:578px;height:19px"></div>
<div class="vl" style="left:624px;top:578px;height:19px"></div>
<div class="vl" style="left:762px;top:578px;height:19px"></div>
<div class="vl" style="left:812px;top:578px;height:19px"></div>
<div class="vl" style="left:862px;top:578px;height:19px"></div>
<div class="vl" style="left:912px;top:578px;height:19px"></div>
<div class="vl" style="left:962px;top:578px;height:19px"></div>
<div class="vl" style="left:1060px;top:578px;height:19px"></div>
<div class="cell cr" style="left:5px;top:579px;width:141px;height:17px;line-height:18px;letter-spacing:-0.14px">Mardi 28 Mai 2024</div>
<div class="cell cc" style="left:147px;top:579px;width:81px;height:17px;line-height:18px;letter-spacing:-0.5px">100,0000</div>
<div class="cell cl" style="left:229px;top:579px;width:295px;height:17px;line-height:18px;letter-spacing:-0.03px">sachets de paillettes Argent fines 3mm x 1 kg</div>
<div class="cell cr" style="left:525px;top:579px;width:99px;height:17px;line-height:18px;letter-spacing:-0.55px">16,67 €</div>
<div class="cell cl" style="left:625px;top:579px;width:137px;height:17px;line-height:18px;letter-spacing:-0.1px">Ali Ghatore</div>
<div class="cell cc" style="left:763px;top:579px;width:49px;height:17px;line-height:18px;letter-spacing:-0.3px">CR</div>
<div class="cell cc" style="left:813px;top:579px;width:49px;height:17px;line-height:18px;letter-spacing:-0.3px">COV</div>
<div class="cell cc" style="left:863px;top:579px;width:49px;height:17px;line-height:18px;letter-spacing:-0.3px">TE</div>
<div class="cell cc" style="left:913px;top:579px;width:49px;height:17px;line-height:18px;letter-spacing:-0.3px">AT</div>
<div class="cell cr" style="left:963px;top:579px;width:97px;height:17px;line-height:18px;letter-spacing:-0.55px">1 667,00 €</div>
<div class="cell cr" style="left:1061px;top:579px;width:86px;height:17px;line-height:18px;letter-spacing:-0.4px">20,0</div>
<div class="row" style="top:597px;height:18px;background:#ffffff"></div>
<div class="hl" style="top:615px;background:#fbfbfb"></div>
<div class="vl" style="left:146px;top:597px;height:19px"></div>
<div class="vl" style="left:228px;top:597px;height:19px"></div>
<div class="vl" style="left:524px;top:597px;height:19px"></div>
<div class="vl" style="left:624px;top:597px;height:19px"></div>
<div class="vl" style="left:762px;top:597px;height:19px"></div>
<div class="vl" style="left:812px;top:597px;height:19px"></div>
<div class="vl" style="left:862px;top:597px;height:19px"></div>
<div class="vl" style="left:912px;top:597px;height:19px"></div>
<div class="vl" style="left:962px;top:597px;height:19px"></div>
<div class="vl" style="left:1060px;top:597px;height:19px"></div>
<div class="cell cr" style="left:5px;top:598px;width:141px;height:17px;line-height:18px;letter-spacing:-0.14px">Mardi 28 Mai 2024</div>
<div class="cell cc" style="left:147px;top:598px;width:81px;height:17px;line-height:18px;letter-spacing:-0.5px">1,0000</div>
<div class="cell cl" style="left:229px;top:598px;width:295px;height:17px;line-height:18px;letter-spacing:-0.03px">Frais de livraison</div>
<div class="cell cr" style="left:525px;top:598px;width:99px;height:17px;line-height:18px;letter-spacing:-0.55px">20,00 €</div>
<div class="cell cl" style="left:625px;top:598px;width:137px;height:17px;line-height:18px;letter-spacing:-0.1px">Ali Ghatore</div>
<div class="cell cc" style="left:763px;top:598px;width:49px;height:17px;line-height:18px;letter-spacing:-0.3px">ACC</div>
<div class="cell cc" style="left:813px;top:598px;width:49px;height:17px;line-height:18px;letter-spacing:-0.3px">AGT</div>
<div class="cell cc" style="left:863px;top:598px;width:49px;height:17px;line-height:18px;letter-spacing:-0.3px">TE</div>
<div class="cell cc" style="left:913px;top:598px;width:49px;height:17px;line-height:18px;letter-spacing:-0.3px">AT</div>
<div class="cell cr" style="left:963px;top:598px;width:97px;height:17px;line-height:18px;letter-spacing:-0.55px">20,00 €</div>
<div class="cell cr" style="left:1061px;top:598px;width:86px;height:17px;line-height:18px;letter-spacing:-0.4px">20,0</div>
<div class="grn" style="top:616px"></div>
<div class="gl" style="top:616px;background:#3aa83a"></div>
<div class="grp" style="top:623px"></div>
<div class="gl" style="top:623px;background:#e06c6c"></div>
<div class="gl" style="top:647px;background:#c07272"></div>
<div class="chev" style="top:629px"><svg width="14" height="12" viewBox="0 0 14 12"><path d="M2.5 3.5 L7 8 L11.5 3.5" fill="none" stroke="#fff" stroke-width="3" stroke-linecap="square"/><path d="M2.5 3.5 L7 8 L11.5 3.5" fill="none" stroke="#3a3a44" stroke-width="1.4"/></svg></div>
<div class="gtxt" style="top:623px;letter-spacing:0.2px">Bon de commande n°  8320 - Hôtel Royal Wilson</div>
<div class="row" style="top:648px;height:36px;background:#f3f3f3"></div>
<div class="hl" style="top:684px"></div>
<div class="vl" style="left:146px;top:648px;height:37px"></div>
<div class="vl" style="left:228px;top:648px;height:37px"></div>
<div class="vl" style="left:524px;top:648px;height:37px"></div>
<div class="vl" style="left:624px;top:648px;height:37px"></div>
<div class="vl" style="left:762px;top:648px;height:37px"></div>
<div class="vl" style="left:812px;top:648px;height:37px"></div>
<div class="vl" style="left:862px;top:648px;height:37px"></div>
<div class="vl" style="left:912px;top:648px;height:37px"></div>
<div class="vl" style="left:962px;top:648px;height:37px"></div>
<div class="vl" style="left:1060px;top:648px;height:37px"></div>
<div class="cell cr" style="left:5px;top:649px;width:141px;height:35px;line-height:36px;letter-spacing:-0.36px">Jeudi 30 Mai 2024</div>
<div class="cell cc" style="left:147px;top:649px;width:81px;height:35px;line-height:36px;letter-spacing:-0.5px">3,0000</div>
<div class="cell ml" style="left:229px;top:648px;width:293px;height:36px">Place de parking<br>1 place de parking x 3 nuits = 3</div>
<div class="cell cr" style="left:525px;top:649px;width:99px;height:35px;line-height:36px;letter-spacing:-0.55px">20,00 €</div>
<div class="cell cl" style="left:625px;top:649px;width:137px;height:35px;line-height:36px;letter-spacing:-0.1px">Ali Ghatore</div>
<div class="cell cr" style="left:963px;top:649px;width:97px;height:35px;line-height:36px;letter-spacing:-0.55px">60,00 €</div>
<div class="cell cr" style="left:1061px;top:649px;width:86px;height:35px;line-height:36px;letter-spacing:-0.4px">10,0</div>
<div class="row" style="top:685px;height:36px;background:#ffffff"></div>
<div class="hl" style="top:721px"></div>
<div class="vl" style="left:146px;top:685px;height:37px"></div>
<div class="vl" style="left:228px;top:685px;height:37px"></div>
<div class="vl" style="left:524px;top:685px;height:37px"></div>
<div class="vl" style="left:624px;top:685px;height:37px"></div>
<div class="vl" style="left:762px;top:685px;height:37px"></div>
<div class="vl" style="left:812px;top:685px;height:37px"></div>
<div class="vl" style="left:862px;top:685px;height:37px"></div>
<div class="vl" style="left:912px;top:685px;height:37px"></div>
<div class="vl" style="left:962px;top:685px;height:37px"></div>
<div class="vl" style="left:1060px;top:685px;height:37px"></div>
<div class="cell cr" style="left:5px;top:686px;width:141px;height:35px;line-height:36px;letter-spacing:-0.36px">Jeudi 30 Mai 2024</div>
<div class="cell cc" style="left:147px;top:686px;width:81px;height:35px;line-height:36px;letter-spacing:-0.5px">3,0000</div>
<div class="cell ml" style="left:229px;top:685px;width:293px;height:36px">Chambre Petit Déj pour 3 nuits du lundi 15 au jeudi 18 ju<br>10 € / chambre x 3 nuits</div>
<div class="cell cr" style="left:525px;top:686px;width:99px;height:35px;line-height:36px;letter-spacing:-0.55px">30,00 €</div>
<div class="cell cl" style="left:625px;top:686px;width:137px;height:35px;line-height:36px;letter-spacing:-0.1px">Ali Ghatore</div>
<div class="cell cc" style="left:763px;top:686px;width:49px;height:35px;line-height:36px;letter-spacing:-0.3px">AC</div>
<div class="cell cc" style="left:813px;top:686px;width:49px;height:35px;line-height:36px;letter-spacing:-0.3px">AGT</div>
<div class="cell cc" style="left:863px;top:686px;width:49px;height:35px;line-height:36px;letter-spacing:-0.3px">TE</div>
<div class="cell cc" style="left:913px;top:686px;width:49px;height:35px;line-height:36px;letter-spacing:-0.3px">AT</div>
<div class="cell cr" style="left:963px;top:686px;width:97px;height:35px;line-height:36px;letter-spacing:-0.55px">90,00 €</div>
<div class="cell cr" style="left:1061px;top:686px;width:86px;height:35px;line-height:36px;letter-spacing:-0.4px">10,0</div>
<div class="row" style="top:722px;height:36px;background:#f3f3f3"></div>
<div class="hl" style="top:758px"></div>
<div class="vl" style="left:146px;top:722px;height:37px"></div>
<div class="vl" style="left:228px;top:722px;height:37px"></div>
<div class="vl" style="left:524px;top:722px;height:37px"></div>
<div class="vl" style="left:624px;top:722px;height:37px"></div>
<div class="vl" style="left:762px;top:722px;height:37px"></div>
<div class="vl" style="left:812px;top:722px;height:37px"></div>
<div class="vl" style="left:862px;top:722px;height:37px"></div>
<div class="vl" style="left:912px;top:722px;height:37px"></div>
<div class="vl" style="left:962px;top:722px;height:37px"></div>
<div class="vl" style="left:1060px;top:722px;height:37px"></div>
<div class="cell cr" style="left:5px;top:723px;width:141px;height:35px;line-height:36px;letter-spacing:-0.36px">Jeudi 30 Mai 2024</div>
<div class="cell cc" style="left:147px;top:723px;width:81px;height:35px;line-height:36px;letter-spacing:-0.5px">3,0000</div>
<div class="cell ml" style="left:229px;top:722px;width:293px;height:36px">Chambre Double pour 3 nuits du lundi 15 au jeudi 18 ju<br>75 € / chambre x 3 nuits</div>
<div class="cell cr" style="left:525px;top:723px;width:99px;height:35px;line-height:36px;letter-spacing:-0.55px">225,00 €</div>
<div class="cell cl" style="left:625px;top:723px;width:137px;height:35px;line-height:36px;letter-spacing:-0.1px">Ali Ghatore</div>
<div class="cell cc" style="left:763px;top:723px;width:49px;height:35px;line-height:36px;letter-spacing:-0.3px">AC</div>
<div class="cell cc" style="left:813px;top:723px;width:49px;height:35px;line-height:36px;letter-spacing:-0.3px">AGT</div>
<div class="cell cc" style="left:863px;top:723px;width:49px;height:35px;line-height:36px;letter-spacing:-0.3px">TE</div>
<div class="cell cc" style="left:913px;top:723px;width:49px;height:35px;line-height:36px;letter-spacing:-0.3px">1</div>
<div class="cell cr" style="left:963px;top:723px;width:97px;height:35px;line-height:36px;letter-spacing:-0.55px">675,00 €</div>
<div class="cell cr" style="left:1061px;top:723px;width:86px;height:35px;line-height:36px;letter-spacing:-0.4px">10,0</div>
<div class="vl" style="left:146px;top:759px;height:5px"></div>
<div class="vl" style="left:228px;top:759px;height:5px"></div>
<div class="vl" style="left:524px;top:759px;height:5px"></div>
<div class="vl" style="left:624px;top:759px;height:5px"></div>
<div class="vl" style="left:762px;top:759px;height:5px"></div>
<div class="vl" style="left:812px;top:759px;height:5px"></div>
<div class="vl" style="left:862px;top:759px;height:5px"></div>
<div class="vl" style="left:912px;top:759px;height:5px"></div>
<div class="vl" style="left:962px;top:759px;height:5px"></div>
<div class="vl" style="left:1060px;top:759px;height:5px"></div>
<div class="abs" style="left:1155px;top:96px;width:1px;height:25px;background:#888"></div>
<div class="abs" style="left:24px;top:771px;width:1002px;height:2px;background:#909090"></div>
<div class="abs" style="left:5px;top:781px;width:1159px;height:1px;background:#a0a0a0"></div>
<div class="abs" style="left:5px;top:800px;width:1159px;height:1px;background:#a0a0a0"></div>
<div class="tl" style="left:6px">Total</div>
<div class="vl" style="left:524px;top:782px;height:18px"></div>
<div class="vl" style="left:624px;top:782px;height:18px"></div>
<div class="vl" style="left:762px;top:782px;height:18px"></div>
<div class="vl" style="left:812px;top:782px;height:18px"></div>
<div class="vl" style="left:862px;top:782px;height:18px"></div>
<div class="vl" style="left:912px;top:782px;height:18px"></div>
<div class="vl" style="left:962px;top:782px;height:18px"></div>
<div class="vl" style="left:1060px;top:782px;height:18px"></div>
<div class="vl" style="left:1160px;top:782px;height:18px"></div>
<div class="tr" style="left:525px;width:95px">47 395,63 €</div>
<div class="tr" style="left:963px;width:93px">243 718,73 €</div>
</body></html>
